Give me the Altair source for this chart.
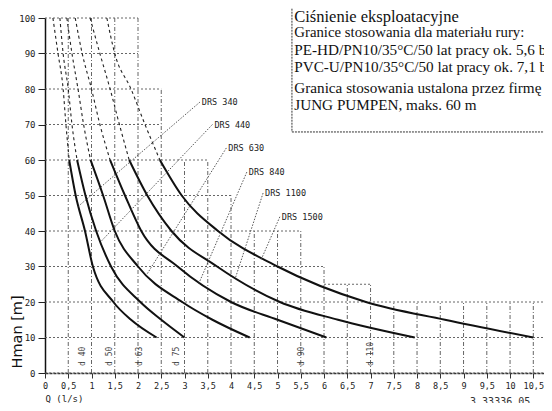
import altair as alt
import pandas as pd

# ---------------- data ----------------
H_LEVELS = [100, 90, 80, 70, 60, 50, 40, 30, 20, 15, 10]
CURVE_NAMES = ["DRS 340", "DRS 440", "DRS 630", "DRS 840", "DRS 1100", "DRS 1500"]
Q_340 = [0.17, 0.28, 0.39, 0.45, 0.52, 0.66, 0.86, 1.03, 1.47, 1.85, 2.40]
Q_440 = [0.32, 0.39, 0.50, 0.58, 0.69, 0.87, 1.10, 1.42, 2.05, 2.50, 3.00]
Q_630 = [0.47, 0.58, 0.71, 0.83, 0.98, 1.25, 1.50, 2.00, 2.95, 3.60, 4.40]
Q_840 = [0.65, 0.80, 1.00, 1.18, 1.40, 1.72, 2.07, 2.85, 4.00, 5.00, 6.05]
Q_1100 = [0.97, 1.18, 1.40, 1.60, 1.81, 2.20, 2.72, 3.70, 5.05, 6.30, 7.95]
Q_1500 = [1.33, 1.50, 1.85, 2.15, 2.47, 2.94, 3.72, 5.00, 6.90, 8.60, 10.50]
CURVE_Q = [Q_340, Q_440, Q_630, Q_840, Q_1100, Q_1500]
LIMIT_H = 60

# curve labels (position) and the point each leader line reaches
LABEL_Q = [3.33, 3.60, 3.90, 4.34, 4.69, 5.05]
LABEL_H = [76.3, 70.0, 63.4, 56.6, 50.7, 44.0]
LEADER_Q = [0.72, 1.20, 2.20, 3.30, 4.10, 4.65]
LEADER_H = [47.0, 37.0, 28.0, 25.0, 27.0, 32.0]

# stepped grid (pressure limits of the pipe materials)
HGRID_H = [0, 10, 20, 25, 30, 40, 50, 60, 70, 80, 90, 100]
HGRID_Q0 = [0, 0, 0, 6, 0, 0, 0, 0, 0, 0, 0, 0]
HGRID_Q1 = [10.73, 10.73, 10.73, 7, 6, 5.5, 4, 3.5, 2.5, 2.5, 2, 2]
VGRID_Q = [0.5, 1, 1.5, 2, 2.5, 3, 3.5, 4, 4.5, 5, 5.5, 6, 6.5, 7, 7.5, 8, 8.5, 9, 9.5, 10, 10.5]
VGRID_TOP = [100, 100, 100, 100, 80, 60, 60, 50, 40, 40, 40, 30, 25, 25, 20, 20, 20, 20, 20, 20, 20]

# pipe labels near the bottom
PIPE_Q = [0.82, 1.40, 2.04, 2.84, 5.53, 7.00]
PIPE_TEXT = ["d 40", "d 50", "d 63", "d 75", "d 90", "d 110"]

X_TICKS = [0, 0.5, 1, 1.5, 2, 2.5, 3, 3.5, 4, 4.5, 5, 5.5, 6, 6.5, 7, 7.5, 8, 8.5, 9, 9.5, 10, 10.5]
Y_TICKS = [0, 10, 20, 30, 40, 50, 60, 70, 80, 90, 100]

BOX_LINES = [
    "Ciśnienie eksploatacyjne",
    "Granice stosowania dla materiału rury:",
    "PE-HD/PN10/35°C/50 lat pracy ok. 5,6 bar",
    "PVC-U/PN10/35°C/50 lat pracy ok. 7,1 bar",
    "Granica stosowania ustalona przez firmę",
    "JUNG PUMPEN, maks. 60 m",
]
BOX_LINE_H = [100.4, 95.9, 91.0, 86.2, 80.3, 75.5]
BOX_LINE_SIZE = [16.5, 14.8, 15.2, 15.2, 15.2, 15.2]
BOX_Q = 5.31
BOX_BOTTOM_H = 67.9
DOC_CODE = "3.33336.05"

# ---------------- tables ----------------
rows = []
for name, qs in zip(CURVE_NAMES, CURVE_Q):
    for q, h in zip(qs, H_LEVELS):
        if h >= LIMIT_H:
            rows.append({"curve": name, "part": "dashed", "Q": q, "H": h})
        if h <= LIMIT_H:
            rows.append({"curve": name, "part": "solid", "Q": q, "H": h})
curves = pd.DataFrame(rows)

labels = pd.DataFrame({"name": CURVE_NAMES, "Q": LABEL_Q, "H": LABEL_H,
                       "Q2": LEADER_Q, "H2": LEADER_H})
hgrid = pd.DataFrame({"H": HGRID_H, "Q0": HGRID_Q0, "Q1": HGRID_Q1})
vgrid = pd.DataFrame({"Q": VGRID_Q, "top": VGRID_TOP, "bottom": [0] * len(VGRID_Q)})
pipes = pd.DataFrame({"Q": PIPE_Q, "t": PIPE_TEXT, "H": [2.0] * len(PIPE_Q)})
box_text = pd.DataFrame({"t": BOX_LINES, "H": BOX_LINE_H, "size": BOX_LINE_SIZE,
                         "Q": [BOX_Q + 0.05] * len(BOX_LINES)})
box_left = pd.DataFrame({"Q": [BOX_Q], "H": [106.0], "H2": [BOX_BOTTOM_H]})
box_bottom = pd.DataFrame({"Q": [BOX_Q], "Q2": [10.73], "H": [BOX_BOTTOM_H]})
doc = pd.DataFrame({"t": [DOC_CODE], "Q": [9.14], "H": [-8.2]})

xs = alt.Scale(domain=[0, 10.73], nice=False, zero=False)
ys = alt.Scale(domain=[0, 100], nice=False, zero=False)
TICKFONT = "DejaVu Sans Mono"

x_axis = alt.Axis(values=X_TICKS, labelExpr="replace(toString(datum.value), '.', ',')",
                  labelOverlap=False, labelFlush=False,
                  title="Q (l/s)", titleFont=TICKFONT, titleFontSize=9, titleFontWeight="normal",
                  titleAnchor="start", titleAlign="left", titleX=0, titleY=25,
                  titleBaseline="middle", titleColor="#222",
                  labelFont=TICKFONT, labelFontSize=8.5, labelColor="#222", labelPadding=3,
                  tickSize=5, tickColor="#333", domainColor="#333", domainWidth=1.5,
                  domainDash=[3, 1], grid=False)
y_axis = alt.Axis(values=Y_TICKS, title="Hman [m]", titleFont="DejaVu Sans", titleFontSize=14.5,
                  labelOverlap=False, labelFlush=False,
                  titleFontWeight="normal", titleColor="#111", titleAngle=270,
                  titleAlign="left", titleBaseline="bottom", titleX=-21, titleY=350,
                  labelFont=TICKFONT, labelFontSize=9, labelColor="#222", labelPadding=3,
                  tickSize=7, tickColor="#222", domainColor="#111", domainWidth=1.5, grid=False)


def X(field):
    return alt.X(field, type="quantitative", scale=xs, axis=x_axis)


def Y(field):
    return alt.Y(field, type="quantitative", scale=ys, axis=y_axis)


hg = alt.Chart(hgrid).mark_rule(color="#555", strokeWidth=0.9, strokeDash=[2, 2]).encode(
    x=X("Q0"), x2="Q1", y=Y("H"))
vg = alt.Chart(vgrid).mark_rule(color="#555", strokeWidth=0.9, strokeDash=[4, 2, 1, 2]).encode(
    x=X("Q"), y=Y("bottom"), y2="top")

dashed = alt.Chart(curves[curves.part == "dashed"]).mark_line(
    color="#222", strokeWidth=1.1, strokeDash=[3, 3], interpolate="monotone").encode(
    x=X("Q"), y=Y("H"), detail="curve:N")
solid = alt.Chart(curves[curves.part == "solid"]).mark_line(
    color="#111", strokeWidth=2, interpolate="monotone").encode(
    x=X("Q"), y=Y("H"), detail="curve:N")

leaders = alt.Chart(labels).mark_rule(color="#444", strokeWidth=0.9, strokeDash=[1.5, 1.5]).encode(
    x=X("Q"), y=Y("H"), x2="Q2", y2="H2")
label_text = alt.Chart(labels).mark_text(
    align="left", baseline="middle", dx=2, font=TICKFONT, fontSize=8.5, color="#222").encode(
    x=X("Q"), y=Y("H"), text="name:N")

pipe_text = alt.Chart(pipes).mark_text(
    angle=270, align="left", baseline="middle", font=TICKFONT, fontSize=8, color="#444").encode(
    x=X("Q"), y=Y("H"), text="t:N")

box_t = alt.Chart(box_text).mark_text(
    align="left", baseline="middle", font="Liberation Serif", color="#111").encode(
    x=X("Q"), y=Y("H"), text="t:N",
    size=alt.Size("size:Q", scale=None, legend=None))
box_l = alt.Chart(box_left).mark_rule(color="#333", strokeWidth=1, strokeDash=[2, 1]).encode(
    x=X("Q"), y=Y("H"), y2="H2")
box_b = alt.Chart(box_bottom).mark_rule(color="#333", strokeWidth=1, strokeDash=[2, 1]).encode(
    x=X("Q"), x2="Q2", y=Y("H"))
doc_t = alt.Chart(doc).mark_text(
    align="left", baseline="middle", font=TICKFONT, fontSize=10, color="#333").encode(
    x=X("Q"), y=Y("H"), text="t:N")

chart = alt.layer(hg, vg, dashed, solid, leaders, label_text, pipe_text,
                  box_l, box_b, box_t, doc_t).properties(
    width=499, height=355,
    autosize=alt.AutoSizeParams(type="none"),
    padding={"left": 37, "top": 10, "right": 0, "bottom": 30},
    background="white",
).configure_view(stroke=None)

chart.save("out.html", embed_options={"renderer": "svg", "actions": False})
